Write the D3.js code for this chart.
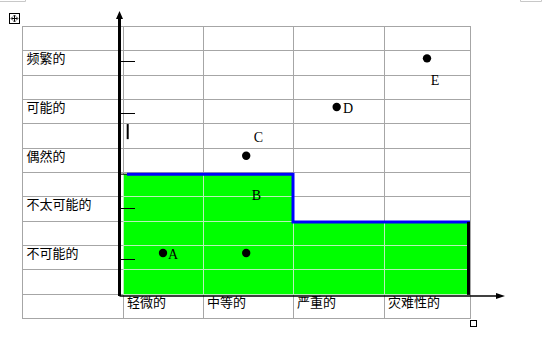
<!DOCTYPE html>
<html><head><meta charset="utf-8">
<script src="https://cdn.jsdelivr.net/npm/d3@7/dist/d3.min.js"></script>
<style>html,body{margin:0;padding:0;background:#fff;overflow:hidden}</style>
</head><body>
<svg id="c" width="559" height="339"></svg>
<script>
// ---- data ----
const severity = ["轻微的", "中等的", "严重的", "灾难性的"];
const likelihood = ["不可能的", "不太可能的", "偶然的", "可能的", "频繁的"];
const riskNames = ["A", "B", "C", "D", "E"];
const riskSeverity = [0.5, 1.48, 1.48, 2.48, 3.5];
const riskLikelihood = [1, 1, 3, 4, 5];
const labelSeverity = [0.625, 1.594, 1.617, 2.604, 3.593];
const labelLikelihood = [0.877, 2.09, 3.28, 3.88, 4.45];
const zoneLimit = [2.62, 2.62, 1.64, 1.64];   // top of acceptable (green) zone per severity column
const zoneBase = 0.14;
const axisTicks = [0.88, 1.93, 3.88, 4.95];
const tableRows = 12;

// ---- scales ----
const x = d3.scaleLinear().domain([0, 1, 2, 3, 4]).range([123, 203, 293, 384, 470]);
const y = d3.scaleLinear().domain([0, 5]).range([301.7, 58.35]);
const row = d3.scaleLinear().domain([0, tableRows]).range([318, 26]);
const tableLeft = 22;

const svg = d3.select("#c");
const cjk = "'Noto Sans CJK SC','Noto Sans',sans-serif";

// green acceptable zone
const zonePts = [];
zoneLimit.forEach((v, i) => { zonePts.push([x(i), y(v)], [x(i + 1), y(v)]); });
const areaGen = d3.area().x(d => d[0]).y0(y(zoneBase)).y1(d => d[1]).curve(d3.curveLinear);
svg.append("path").attr("d", areaGen(zonePts)).attr("fill", "#00ff00");
svg.append("clipPath").attr("id", "gz").append("path").attr("d", areaGen(zonePts));

// table grid
function grid(g, color) {
  const cols = [tableLeft].concat(d3.range(0, 5).map(i => x(i)));
  cols.forEach(c => g.append("line").attr("x1", c + 0.5).attr("x2", c + 0.5)
    .attr("y1", row(tableRows)).attr("y2", row(0)).attr("stroke", color).attr("stroke-width", 1));
  d3.range(0, tableRows + 1).forEach(r => g.append("line")
    .attr("x1", tableLeft).attr("x2", x(4) + 1).attr("y1", Math.round(row(r)) + 0.5).attr("y2", Math.round(row(r)) + 0.5)
    .attr("stroke", color).attr("stroke-width", 1));
}
grid(svg.append("g"), "#a6a6a6");
// lighter grid lines visible through the green zone
const gg = svg.append("g").attr("clip-path", "url(#gz)");
gg.append("path").attr("d", areaGen(zonePts)).attr("fill", "#00ff00");
grid(gg, "#b8f0b8");

// blue boundary
const bx0 = x(0) + 4;
const bluePts = [[bx0, y(zoneLimit[0])]];
zoneLimit.forEach((v, i) => { if (i > 0) bluePts.push([x(i), y(v)]); bluePts.push([x(i + 1), y(v)]); });
svg.append("line").attr("x1", x(-0.04)).attr("x2", bx0).attr("y1", y(zoneLimit[0])).attr("y2", y(zoneLimit[0]))
  .attr("stroke", "#000").attr("stroke-width", 1);
svg.append("path").attr("d", d3.line()(bluePts)).attr("fill", "none").attr("stroke", "#0000ff").attr("stroke-width", 3);
// black right edge of zone
svg.append("line").attr("x1", x(4) - 1.5).attr("x2", x(4) - 1.5)
  .attr("y1", y(zoneLimit[3])).attr("y2", y(zoneBase)).attr("stroke", "#000").attr("stroke-width", 3);

// axes
const ax0 = 119.5, ay0 = 296;
svg.append("line").attr("x1", ax0).attr("x2", ax0).attr("y1", ay0).attr("y2", 17)
  .attr("stroke", "#000").attr("stroke-width", 3);
svg.append("path").attr("d", `M${ax0 - 3.5},19 L${ax0},11 L${ax0 + 3.5},19 Z`).attr("fill", "#000");
svg.append("line").attr("x1", ax0).attr("x2", 498).attr("y1", ay0).attr("y2", ay0)
  .attr("stroke", "#000").attr("stroke-width", 1.5);
svg.append("path").attr("d", `M496,${ay0 - 3} L505,${ay0} L496,${ay0 + 3} Z`).attr("fill", "#000");

// tick marks
axisTicks.forEach(t => svg.append("line").attr("x1", ax0).attr("x2", 135)
  .attr("y1", Math.round(y(t)) + 0.5).attr("y2", Math.round(y(t)) + 0.5).attr("stroke", "#000").attr("stroke-width", 1));
svg.append("line").attr("x1", 127.7).attr("x2", 127.7).attr("y1", y(3.65)).attr("y2", y(3.34))
  .attr("stroke", "#000").attr("stroke-width", 2);

// category labels
likelihood.forEach((t, i) => svg.append("text").attr("x", 26.5).attr("y", y(i + 1) + 5)
  .attr("font-family", cjk).attr("font-size", 13).attr("fill", "#000").text(t));
severity.forEach((t, i) => svg.append("text").attr("x", x(i) + 4).attr("y", 307)
  .attr("font-family", cjk).attr("font-size", 13).attr("fill", "#000").text(t));

// risk points
riskNames.forEach((n, i) => {
  svg.append("circle").attr("cx", x(riskSeverity[i])).attr("cy", y(riskLikelihood[i])).attr("r", 4.2).attr("fill", "#000");
  svg.append("text").attr("x", x(labelSeverity[i])).attr("y", y(labelLikelihood[i]))
    .attr("text-anchor", "middle").attr("font-family", "'Liberation Serif','Times New Roman',serif")
    .attr("font-size", 14).attr("fill", "#000").text(n);
});

// editor artefacts: move handle, resize handle, page corner marks
const mh = svg.append("g");
mh.append("rect").attr("x", 9.5).attr("y", 13.5).attr("width", 10).attr("height", 10).attr("fill", "#fff").attr("stroke", "#000");
mh.append("path").attr("d", "M14.5,15.5 V21.5 M11.5,18.5 H17.5").attr("stroke", "#000").attr("fill", "none");
mh.append("path").attr("d", "M13,16.5 L14.5,15 L16,16.5 M13,20.5 L14.5,22 L16,20.5 M12.5,17 L11,18.5 L12.5,20 M16.5,17 L18,18.5 L16.5,20")
  .attr("stroke", "#000").attr("fill", "none").attr("stroke-width", 0.8);
svg.append("rect").attr("x", 470.5).attr("y", 320.5).attr("width", 6).attr("height", 6).attr("fill", "#fff").attr("stroke", "#000");
svg.append("path").attr("d", "M0,1.5 H25.5 V0").attr("stroke", "#c8c8c8").attr("fill", "none");
svg.append("path").attr("d", "M520.5,0 V1.5 H541.5 V0").attr("stroke", "#c8c8c8").attr("fill", "none");
</script>
</body></html>
